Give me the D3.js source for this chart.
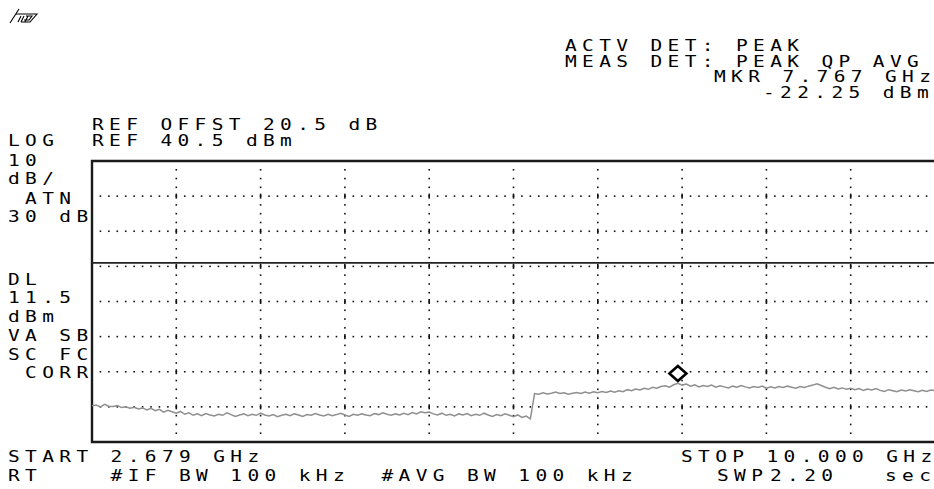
<!DOCTYPE html>
<html>
<head>
<meta charset="utf-8">
<script src="https://cdn.jsdelivr.net/npm/d3@7/dist/d3.min.js"></script>
<style>
  body { margin: 0; background: #fff; }
  svg text.scr { font-family: "DejaVu Sans Mono", monospace; font-size: 16px; fill: #000; white-space: pre; }
</style>
</head>
<body>
<script>
// sweep settings
const startGHz = 2.679, stopGHz = 10.0;
const refDbm = 40.5, dbPerDiv = 10, vDivs = 8, hDivs = 10;
const displayLineDbm = 11.5;
const markerGHz = 7.767, markerDbm = -22.25;

// trace (dBm), 201 sweep points
const traceDbm = [
  -29.2,-29.0,-29.5,-28.8,-29.3,-29.4,-29.1,-29.7,-29.5,-29.9,
  -29.6,-30.1,-29.8,-30.4,-29.9,-30.6,-30.2,-31.0,-30.5,-30.9,
  -31.3,-30.8,-31.6,-31.2,-31.9,-31.5,-32.0,-31.4,-31.8,-32.1,
  -31.6,-31.9,-31.2,-31.7,-32.2,-31.8,-31.5,-32.0,-31.6,-31.9,
  -31.3,-31.8,-32.1,-31.7,-32.3,-31.9,-31.6,-32.0,-31.5,-31.8,
  -32.2,-31.7,-31.9,-31.4,-31.8,-32.1,-31.6,-32.0,-31.7,-31.3,
  -31.8,-32.2,-31.6,-31.9,-31.5,-31.8,-32.0,-31.4,-31.7,-31.2,
  -31.6,-31.9,-31.5,-31.8,-31.3,-31.7,-31.1,-31.5,-30.9,-31.2,
  -31.0,-31.5,-31.8,-31.3,-31.9,-31.6,-32.1,-31.5,-31.8,-31.4,
  -32.0,-31.6,-31.9,-31.3,-31.8,-32.2,-31.7,-32.0,-31.5,-31.9,
  -32.3,-31.8,-32.5,-32.1,-32.9,
  -25.7,-25.9,-25.5,-25.8,-25.6,-25.3,-25.7,-25.5,-25.9,-25.6,
  -25.4,-25.7,-25.3,-25.6,-25.2,-25.5,-25.1,-25.4,-25.0,-25.3,
  -24.9,-25.2,-24.6,-24.9,-24.4,-24.7,-24.2,-24.5,-23.9,-24.2,
  -23.7,-23.5,-23.9,-23.2,-22.8,-23.3,-23.0,-23.6,-23.2,-23.8,
  -23.4,-23.7,-23.3,-23.9,-23.5,-23.8,-24.1,-23.6,-23.9,-23.4,
  -23.8,-24.1,-23.7,-24.0,-23.6,-24.2,-23.8,-24.1,-23.7,-24.0,
  -23.6,-23.9,-24.2,-23.7,-24.0,-23.6,-23.3,-22.9,-23.4,-23.9,
  -24.3,-23.9,-24.4,-24.1,-24.5,-24.2,-24.6,-24.3,-24.8,-24.4,
  -24.7,-24.3,-24.8,-25.1,-24.6,-24.9,-25.2,-24.7,-25.0,-24.6,
  -24.9,-25.2,-24.8,-25.1,-24.7,-24.9
];

// annotation text
const topRightLines = ["ACTV DET: PEAK", "MEAS DET: PEAK QP AVG",
  `MKR ${markerGHz.toFixed(3)} GHz`, `${markerDbm.toFixed(2)} dBm`];
const refLines = ["REF OFFST 20.5 dB", `REF ${refDbm.toFixed(1)} dBm`];
const leftLines = ["LOG", "10", "dB/", " ATN", "30 dB"];
const dlLines = ["DL", `${displayLineDbm}`, "dBm", "VA SB", "SC FC", " CORR"];
const bottomLines = [
  { t: `START ${startGHz.toFixed(3)} GHz`, x: 8, y: 461.5 },
  { t: `STOP ${stopGHz.toFixed(3)} GHz`, x: 681, y: 461.5 },
  { t: "RT    #IF BW 100 kHz", x: 8, y: 480.5 },
  { t: "#AVG BW 100 kHz", x: 381.5, y: 480.5 },
  { t: "SWP", x: 717, y: 480.5 },
  { t: "2.20", x: 770, y: 480.5 },
  { t: "sec", x: 885, y: 480.5 }
];

const W = 934, H = 489;
const plot = { left: 92, top: 161, right: 935, bottom: 442 };
const pitch = 17.1, sx = 1.22;

const svg = d3.select("body").append("svg")
  .attr("width", W).attr("height", H);
svg.append("rect").attr("width", W).attr("height", H).attr("fill", "#fff");

const x = d3.scaleLinear().domain([startGHz, stopGHz]).range([plot.left, plot.right]);
const y = d3.scaleLinear()
  .domain([refDbm - dbPerDiv * vDivs, refDbm])
  .range([plot.bottom, plot.top]);

// graticule (dotted)
const grat = svg.append("g").attr("fill", "#111");
const span = stopGHz - startGHz;
const colStep = (plot.right - plot.left) / hDivs;
const rowStep = (plot.bottom - plot.top) / vDivs;
for (let k = 1; k < vDivs; k++) {
  const gy = y(refDbm - k * dbPerDiv);
  for (let j = 1; j < hDivs * 10; j++) {
    grat.append("rect").attr("x", plot.left + j * colStep / 10 - 0.8)
      .attr("y", gy - 0.8).attr("width", 1.6).attr("height", 1.6);
  }
}
for (let k = 1; k < hDivs; k++) {
  const gx = x(startGHz + k * span / hDivs);
  for (let j = 1; j < vDivs * 4; j++) {
    const cy = plot.top + j * rowStep / 4;
    const cross = j % 4 === 0;
    grat.append("rect").attr("x", gx - 0.8)
      .attr("y", cy - (cross ? 2.5 : 0.8))
      .attr("width", 1.6).attr("height", cross ? 5 : 1.6);
  }
}

// frame
svg.append("path")
  .attr("d", `M${plot.right},${plot.top}H${plot.left}V${plot.bottom}H${plot.right}`)
  .attr("fill", "none").attr("stroke", "#1a1a1a").attr("stroke-width", 2.4);

// display line
svg.append("line")
  .attr("x1", plot.left).attr("x2", plot.right)
  .attr("y1", y(displayLineDbm)).attr("y2", y(displayLineDbm))
  .attr("stroke", "#222").attr("stroke-width", 1.6);

// trace
const n = traceDbm.length;
const line = d3.line()
  .x((d, i) => x(startGHz + i * span / (n - 1)))
  .y(d => y(d));
svg.append("path").datum(traceDbm)
  .attr("d", line)
  .attr("fill", "none").attr("stroke", "#8f8f8f").attr("stroke-width", 1.5);

// marker diamond
const mx = x(markerGHz), my = y(markerDbm) - 8;
svg.append("path")
  .attr("d", `M${mx},${my - 7.5}L${mx + 8.5},${my}L${mx},${my + 7.5}L${mx - 8.5},${my}Z`)
  .attr("fill", "#fff").attr("stroke", "#000").attr("stroke-width", 2.6);

// screen text: fixed character cells, glyphs widened a bit
const txt = (t, tx, ty) => svg.append("text").attr("class", "scr")
  .attr("transform", `translate(${tx},${ty}) scale(${sx},1)`)
  .attr("x", Array.from(t, (c, i) => (i * pitch / sx).toFixed(2)).join(" "))
  .attr("y", 0)
  .text(t);
const trX = [565, 565, 714, 763], trY = [51, 66.7, 82.3, 98.3];
topRightLines.forEach((t, i) => txt(t, trX[i], trY[i]));
txt(refLines[0], 92, 130);
txt(refLines[1], 92, 145.7);
const lY = [145.7, 166, 184, 203.5, 222];
leftLines.forEach((t, i) => txt(t, 8, lY[i]));
const dY = [285, 303.3, 321.7, 340.5, 359.5, 378.3];
dlLines.forEach((t, i) => txt(t, 8, dY[i]));
bottomLines.forEach(d => txt(d.t, d.x, d.y));

// hp logo
const logo = svg.append("g").attr("transform", "translate(7,6)")
  .attr("fill", "none").attr("stroke", "#000").attr("stroke-width", 1.1);
logo.append("path").attr("d", "M3,17L12,3");
logo.append("path").attr("d", "M9,8H30L23,16H14");
logo.append("path").attr("d", "M14,10L11,16M17,10L14,16M21,10L18,16M19,10H25L22,14H17");
</script>
</body>
</html>
